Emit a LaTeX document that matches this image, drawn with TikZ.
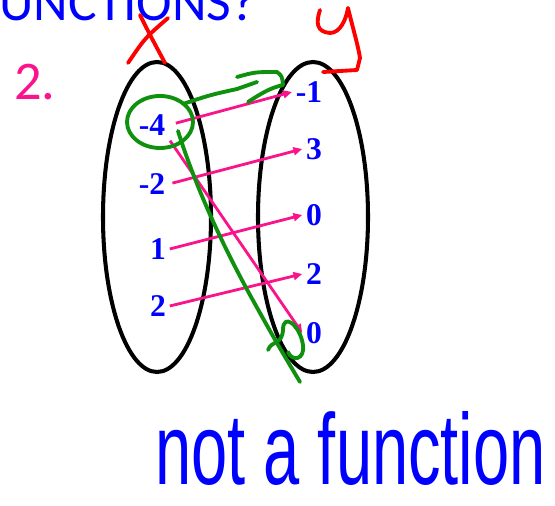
\documentclass[tikz,border=0pt]{standalone}
\usepackage{fontspec}
\setmainfont{Liberation Serif}
\newfontfamily\slidefont{Carlito}
\newfontfamily\handfont{Liberation Sans}
\usetikzlibrary{arrows.meta,shapes.geometric}
\definecolor{inkblue}{RGB}{0,0,255}
\definecolor{inkpink}{RGB}{250,20,140}
\definecolor{inkgreen}{RGB}{15,145,15}
\definecolor{inkred}{RGB}{255,0,0}
\tikzset{
  elem/.style={font=\fontsize{18}{20}\selectfont\bfseries, text=inkblue, inner sep=2pt},
  setoval/.style={draw=black, line width=2.3pt, ellipse, inner sep=0pt},
  map/.style={inkpink, line width=1.6pt, -{Triangle[length=5pt,width=4.5pt]}},
  pen/.style={line width=2.2pt, line cap=round, line join=round},
}

\begin{document}
\begin{tikzpicture}[x=0.02cm, y=-0.02cm]
  \useasboundingbox (0,0) rectangle (555,506);

  % ---------- heading ----------
  \node[anchor=base west, inner sep=0, text=inkblue,
        font=\slidefont\fontsize{30.5}{31}\selectfont] (title) at (-1,21) {UNCTIONS?};
  \node[anchor=base west, inner sep=0, text=inkpink,
        font=\slidefont\fontsize{31}{32}\selectfont] (num) at (14,100) {2.};

  % ---------- the two sets ----------
  \node[setoval, minimum width=108*0.02cm, minimum height=310*0.02cm] (dom) at (157,217) {};
  \node[setoval, minimum width=110*0.02cm, minimum height=310*0.02cm] (ran) at (313,217) {};

  % ---------- elements ----------
  \node[elem] (lm4) at (152,125) {-4};
  \node[elem] (lm2) at (152,184) {-2};
  \node[elem] (l1)  at (158,249) {1};
  \node[elem] (l2)  at (158,306) {2};
  \node[elem] (rm1) at (309,92)  {-1};
  \node[elem] (r3)  at (314,149) {3};
  \node[elem] (r0a) at (314,215) {0};
  \node[elem] (r2)  at (314,274) {2};
  \node[elem] (r0b) at (314,333) {0};

  % ---------- mapping ----------
  \draw[map, shorten <=4pt] (lm4.east) -- (rm1.west);
  \draw[map, shorten <=2pt] (lm2.east) -- (r3.west);
  \draw[map] (l1.east) -- (r0a.west);
  \draw[map] (l2.east) -- (r2.west);
  \draw[map, shorten <=1pt] (lm4.south east) -- (r0b.west);

  % ---------- red x and y ----------
  \draw[pen, inkred] (140,15) .. controls (150,35) .. (165,63);
  \draw[pen, inkred] (168,18) .. controls (145,38) .. (128,63);
  \draw[pen, inkred] (320,10) .. controls (316,22) and (316,32) .. (330,33)
        .. controls (340,33) and (346,20) .. (348,8)
        .. controls (352,25) and (358,45) .. (360,58)
        -- (357,70) -- (323,72);

  % ---------- green ----------
  \draw[pen, inkgreen] (160,122) ellipse [x radius=33, y radius=26];
  \draw[pen, inkgreen] (183,104) .. controls (210,95) .. (237,89) -- (257,82);
  \draw[pen, inkgreen] (237,77) .. controls (255,72) .. (277,72)
        .. controls (282,76) .. (283,85)
        .. controls (270,88) and (262,93) .. (248,102);
  \draw[pen, inkgreen] (178,131) .. controls (195,185) and (220,240) .. (250,295)
        .. controls (275,340) .. (300,382);
  \draw[pen, inkgreen] (268,350) .. controls (272,340) and (282,345) .. (283,330)
        .. controls (283,312) and (300,325) .. (303,345)
        .. controls (305,360) and (292,362) .. (288,352);

  % ---------- verdict ----------
  \node[anchor=base west, inner sep=0, text=inkblue, yscale=1.55,
        font=\handfont\fontsize{37}{38}\selectfont] (verdict) at (155,485) {not a function};
\end{tikzpicture}
\end{document}
